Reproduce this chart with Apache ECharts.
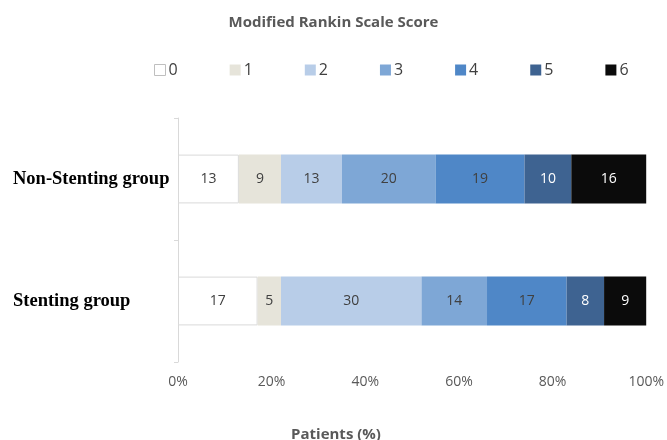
<!DOCTYPE html>
<html>
<head>
<meta charset="utf-8">
<script src="https://cdn.jsdelivr.net/npm/echarts@6/dist/echarts.min.js"></script>
<style>
  html, body { margin: 0; padding: 0; background: #fff; }
  #chart { width: 667px; height: 440px; }
</style>
</head>
<body>
<div id="chart"></div>
<script>
var groups = ['Stenting group', 'Non-Stenting group'];
var scores = ['0', '1', '2', '3', '4', '5', '6'];
// percentage of patients per mRS score, [Stenting, Non-Stenting]
var score0 = [17, 13];
var score1 = [5, 9];
var score2 = [30, 13];
var score3 = [14, 20];
var score4 = [17, 19];
var score5 = [8, 10];
var score6 = [9, 16];
var xTicks = [0, 20, 40, 60, 80, 100];

var colors = ['#ffffff', '#e6e4da', '#b8cde8', '#7ea7d6', '#4f87c7', '#3e6391', '#0b0b0b'];
var labelColors = ['#404040', '#404040', '#404040', '#404040', '#404040', '#ffffff', '#ffffff'];
var values = [score0, score1, score2, score3, score4, score5, score6];

var chart = echarts.init(document.getElementById('chart'));

var series = scores.map(function (s, i) {
  return {
    name: s,
    type: 'bar',
    stack: 'total',
    barWidth: '40%',
    data: values[i],
    itemStyle: {
      color: colors[i],
      borderColor: i === 0 ? '#d9d9d9' : colors[i],
      borderWidth: i === 0 ? 1 : 0
    },
    label: {
      show: true,
      position: 'inside',
      color: labelColors[i],
      fontSize: 14,
      fontFamily: 'Open Sans'
    }
  };
});

var option = {
  animation: false,
  backgroundColor: '#fff',
  title: [
    {
      text: 'Modified Rankin Scale Score',
      left: 'center',
      top: 10,
      textStyle: { fontSize: 15, fontWeight: 'bold', color: '#595959', fontFamily: 'Open Sans' }
    },
    {
      text: 'Patients (%)',
      left: 331,
      textAlign: 'center',
      top: 422,
      textStyle: { fontSize: 15, fontWeight: 'bold', color: '#595959', fontFamily: 'Open Sans' }
    }
  ],
  legend: {
    data: scores.map(function (s, i) {
      return { name: s, itemStyle: { borderColor: i === 0 ? '#bfbfbf' : colors[i], borderWidth: i === 0 ? 1 : 0 } };
    }),
    left: 149,
    top: 57,
    icon: 'rect',
    itemWidth: 11,
    itemHeight: 11,
    itemGap: 52,
    textStyle: { fontSize: 16, color: '#404040', fontFamily: 'Open Sans', padding: [0, 0, 0, -2] }
  },
  grid: { left: 178, right: 20, top: 118, bottom: 78 },
  xAxis: {
    type: 'value',
    min: 0,
    max: 100,
    interval: 20,
    axisLine: { show: false },
    axisTick: { show: false },
    splitLine: { show: false },
    axisLabel: {
      margin: 13,
      fontSize: 14,
      color: '#595959',
      fontFamily: 'Open Sans',
      formatter: function (v) { return xTicks.indexOf(v) >= 0 ? v + '%' : ''; }
    }
  },
  yAxis: {
    type: 'category',
    data: groups,
    axisLine: { show: true, lineStyle: { color: '#d9d9d9' } },
    axisTick: { show: true, length: 4, lineStyle: { color: '#d9d9d9' } },
    axisLabel: {
      align: 'left',
      margin: 165,
      fontSize: 18.5,
      fontWeight: 'bold',
      color: '#000',
      fontFamily: 'Liberation Serif'
    }
  },
  series: series
};

chart.setOption(option);
</script>
</body>
</html>
